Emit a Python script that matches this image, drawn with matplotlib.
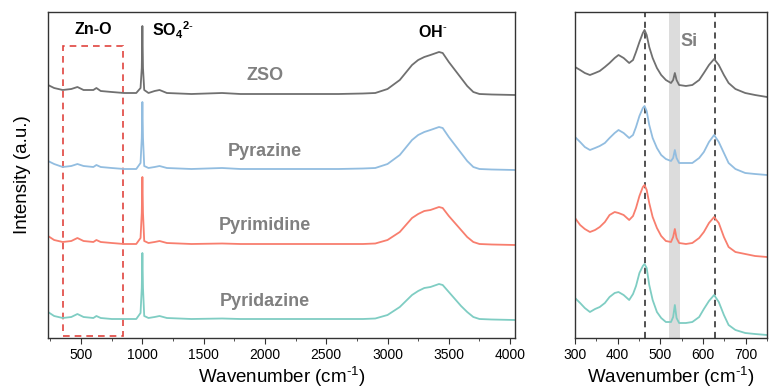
import matplotlib
matplotlib.use("Agg")
import matplotlib.pyplot as plt
from matplotlib.patches import Rectangle
from matplotlib.ticker import MultipleLocator

plt.rcParams['font.family'] = ['Liberation Sans', 'DejaVu Sans']
plt.rcParams['mathtext.fontset'] = 'custom'
plt.rcParams['mathtext.rm'] = 'Liberation Sans'
plt.rcParams['mathtext.bf'] = 'Liberation Sans:bold'
plt.rcParams['mathtext.default'] = 'regular'

# data -----
names = ['ZSO', 'Pyrazine', 'Pyrimidine', 'Pyridazine']
colors = ['#707070', '#92bde0', '#f87e6e', '#7fcdc3']

# full range spectra (offset stacked, a.u.)
wn_full = [230, 280, 350, 420, 470, 520, 600, 625, 660, 750, 850, 950, 985, 995,
           1000, 1005, 1015, 1050, 1100, 1140, 1200, 1400, 1650, 1800, 2200, 2600,
           2800, 2900, 3000, 3100, 3200, 3250, 3300, 3350, 3420, 3450, 3500, 3550,
           3600, 3650, 3700, 3750, 3850, 4040]
zso_full = [253, 250, 248, 249, 251, 248, 248, 250, 247, 246, 245, 245, 250, 270,
            312, 270, 248, 245, 247, 248, 245, 244, 245, 244, 244, 244,
            244.5, 245, 249, 258, 273, 278, 281, 283, 286, 285, 276, 268,
            260, 252, 246, 244, 243.5, 243]
pyrazine_full = [177, 174, 171, 172, 174, 172, 171, 173, 171, 170, 169, 169, 175, 200,
                 236, 200, 172, 170, 171, 172, 170, 169, 170, 169, 169, 169,
                 169.5, 170, 174, 183, 198, 203, 206, 208, 211, 210, 201, 193,
                 185, 177, 171, 169, 168.5, 168]
pyrimidine_full = [102, 98, 96, 97, 100, 97, 96, 98, 96, 95, 94, 94, 100, 125,
                   161, 125, 97, 95, 96, 97, 95, 94, 94.5, 94, 94, 94,
                   94, 94.5, 98, 106, 120, 124, 127, 128, 131, 130, 122, 115,
                   108, 101, 96, 94, 93.5, 93]
pyridazine_full = [26, 22, 20, 21, 24, 21, 20, 22, 20, 19, 19, 19, 25, 50,
                   85, 50, 22, 20, 21, 22, 20, 19, 19.5, 19, 19, 19,
                   19, 19.5, 23, 31, 43, 47, 50, 51, 54, 53, 46, 39,
                   32, 26, 21, 19, 18.5, 18]

# low wavenumber zoom (offset stacked, a.u.)
wn_low = [300, 312, 323, 335, 347, 358, 370, 381, 393, 402, 414, 427, 436, 443,
          451, 459, 463, 468, 474, 482, 492, 502, 513, 525, 530, 534, 538, 544,
          560, 575, 591, 602, 614, 626, 637, 649, 660, 676, 699, 722, 750]
zso_low = [271, 268, 265, 263, 265, 267, 271, 275, 280, 283, 280, 275, 278, 286,
           296, 305, 308, 303, 291, 280, 270, 263, 258, 255, 258, 265, 258, 253,
           252, 253, 258, 265, 273, 279, 273, 263, 255, 249, 245, 243, 241]
pyrazine_low = [201, 196, 191, 188, 190, 192, 195, 200, 205, 208, 205, 200, 203, 211,
                222, 230, 232, 227, 213, 200, 190, 183, 179, 177, 180, 188, 180, 175,
                175, 175, 180, 186, 196, 203, 196, 185, 175, 169, 165, 164, 163]
pyrimidine_low = [120, 113, 109, 106, 108, 111, 116, 123, 126, 125, 123, 118, 122, 130,
                  142, 151, 153, 148, 135, 121, 110, 102, 97, 96, 101, 109, 100, 95,
                  94, 95, 100, 106, 115, 121, 115, 101, 91, 86, 84, 82, 81]
pyridazine_low = [40, 35, 30, 26, 29, 31, 35, 41, 45, 46, 43, 38, 44, 52,
                  65, 72, 74, 70, 53, 38, 26, 20, 16, 16, 21, 33, 20, 15,
                  15, 16, 21, 29, 37, 43, 36, 23, 13, 8, 5, 4, 3]

full_series = [zso_full, pyrazine_full, pyrimidine_full, pyridazine_full]
low_series = [zso_low, pyrazine_low, pyrimidine_low, pyridazine_low]
label_y = [262, 186, 113, 36]
zno_box = (350, 840)
ref_lines = [463, 627]
si_band = (520, 545)

# plot -----
fig = plt.figure(figsize=(7.69, 3.92), dpi=100)
ax1 = fig.add_axes([48/769, 54/392, 467/769, 326/392])
ax2 = fig.add_axes([575/769, 54/392, 192/769, 326/392])

for y, c, name, ly in zip(full_series, colors, names, label_y):
    ax1.plot(wn_full, y, color=c, lw=1.3)
    ax1.text(2000, ly, name, color='#808080', fontsize=13, fontweight='bold',
             ha='center', va='center')

ax1.add_patch(Rectangle((zno_box[0], 2), zno_box[1]-zno_box[0], 290, fill=False,
                        ec='#e0443e', lw=1.2, ls=(0, (4, 3))))
ax1.text(597, 308, 'Zn-O', fontsize=11.5, fontweight='bold', ha='center', va='center')
ax1.text(1075, 308, r'$\mathbf{SO_4{}^{2\text{-}}}$', fontsize=11.5, ha='left', va='center')
ax1.text(3368, 306, r'$\mathbf{OH^{\text{-}}}$', fontsize=11.5, ha='center', va='center')

ax1.set_xlim(230, 4040)
ax1.set_ylim(0, 326)
ax1.xaxis.set_major_locator(MultipleLocator(500))
ax1.xaxis.set_minor_locator(MultipleLocator(250))
ax1.set_yticks([])
ax1.set_xlabel(r'Wavenumber (cm$^{\text{-}1}$)', fontsize=13.5, labelpad=2)
ax1.set_ylabel('Intensity (a.u.)', fontsize=13.5, labelpad=12)

ax2.axvspan(si_band[0], si_band[1], color='#dcdcdc', lw=0)
for x in ref_lines:
    ax2.axvline(x, color='#222222', lw=1.1, ls=(0, (4, 3)))
for y, c in zip(low_series, colors):
    ax2.plot(wn_low, y, color=c, lw=1.3)
ax2.text(567, 296, 'Si', color='#808080', fontsize=13, fontweight='bold',
         ha='center', va='center')
ax2.set_xlim(300, 750)
ax2.set_ylim(0, 326)
ax2.xaxis.set_major_locator(MultipleLocator(100))
ax2.xaxis.set_minor_locator(MultipleLocator(50))
ax2.set_yticks([])
ax2.set_xlabel(r'Wavenumber (cm$^{\text{-}1}$)', fontsize=13.5, labelpad=2)

for ax in (ax1, ax2):
    for s in ax.spines.values():
        s.set_color('#333333')
        s.set_linewidth(1.0)
    ax.tick_params(axis='x', which='major', direction='out', length=4,
                   labelsize=10, color='#333333')
    ax.tick_params(axis='x', which='minor', direction='out', length=2.5,
                   color='#333333')

plt.savefig('out.png', dpi=100)
